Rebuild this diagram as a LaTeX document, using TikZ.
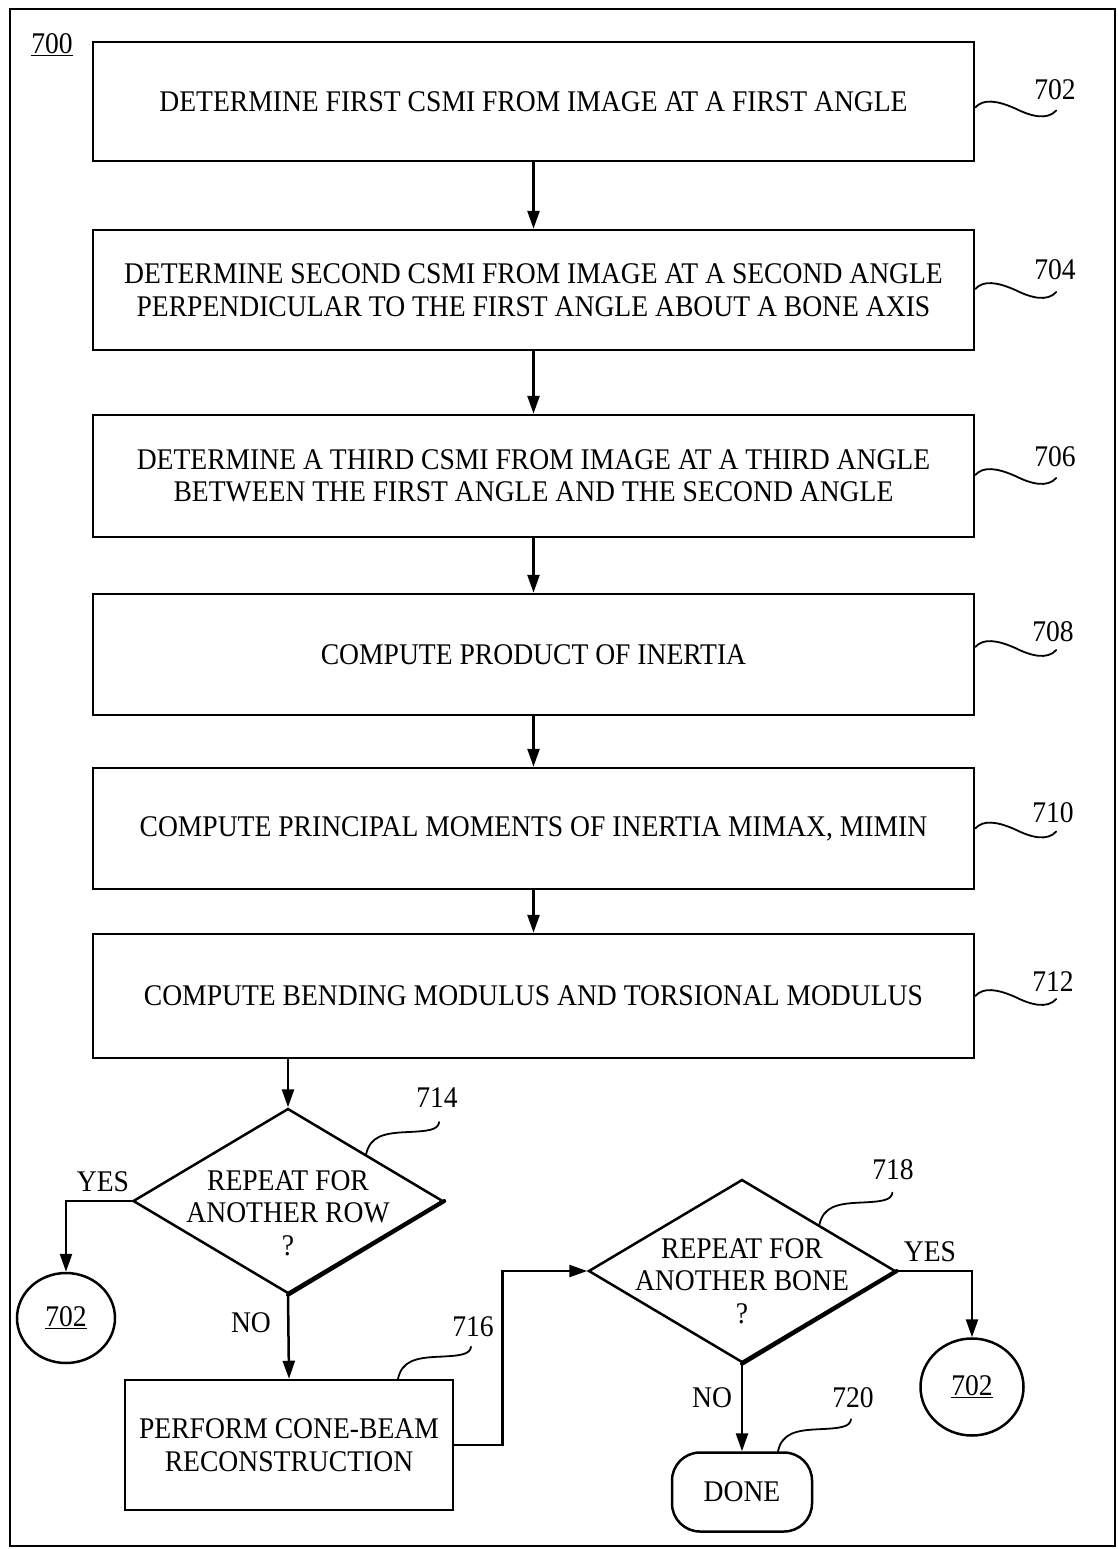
\documentclass[tikz,border=0pt]{standalone}
\usepackage{fontspec}
\setmainfont{Liberation Serif}[FakeStretch=0.92]
\usetikzlibrary{arrows.meta,shapes.geometric,calc}
\newcommand\bigtxt{\fontsize{30}{32.5}\selectfont}
\begin{document}
\begin{tikzpicture}[x=1pt,y=-1pt,
  box/.style={draw,line width=2.5pt,minimum width=881pt,inner sep=0pt,align=center,font=\bigtxt},
  dia/.style={draw,diamond,line width=2.5pt,inner sep=0pt},
  dtxt/.style={align=center,font=\bigtxt,inner sep=0pt},
  circ/.style={draw,ellipse,line width=2.5pt,inner sep=0pt,font=\bigtxt},
  arr/.style={line width=2.5pt,-{Triangle[length=18pt,width=12pt]}},
  lead/.style={line width=1.8pt,line cap=round},
  lab/.style={font=\bigtxt,inner sep=0pt},
  tilde/.pic={\draw[lead] (0,0) .. controls (8,-9) and (22,-7) .. (40,1) .. controls (56,9) and (72,13) .. (81,3);},
  hook/.pic={\draw[lead] (0,0) .. controls (4,-18) and (18,-21) .. (40,-22) .. controls (62,-23) and (72,-24) .. (73,-32);}
]
\useasboundingbox (0,0) rectangle (1118,1549);
\draw[line width=1.5pt] (10,9) rectangle (1115,1546);
\node[lab] (n700) at (52,45) {\underline{700}};

\node[box,minimum height=119pt] (b702) at (533.5,101.5) {DETERMINE FIRST CSMI FROM IMAGE AT A FIRST ANGLE};
\node[box,minimum height=120pt] (b704) at (533.5,290) {DETERMINE SECOND CSMI FROM IMAGE AT A SECOND ANGLE\\PERPENDICULAR TO THE FIRST ANGLE ABOUT A BONE AXIS};
\node[box,minimum height=122pt] (b706) at (533.5,476) {DETERMINE A THIRD CSMI FROM IMAGE AT A THIRD ANGLE\\BETWEEN THE FIRST ANGLE AND THE SECOND ANGLE};
\node[box,minimum height=121pt] (b708) at (533.5,654.5) {COMPUTE PRODUCT OF INERTIA};
\node[box,minimum height=121pt] (b710) at (533.5,828.5) {COMPUTE PRINCIPAL MOMENTS OF INERTIA MIMAX, MIMIN};
\node[box,minimum height=124pt] (b712) at (533.5,996) {COMPUTE BENDING MODULUS AND TORSIONAL MODULUS};

\foreach \a/\b in {b702/b704,b704/b706,b706/b708,b708/b710,b710/b712}
  \draw[arr] (\a) -- (\b);

\node[lab] (l702) at (1055,90) {702};
\node[lab] (l704) at (1055,270) {704};
\node[lab] (l706) at (1055,457) {706};
\node[lab] (l708) at (1053,632) {708};
\node[lab] (l710) at (1053,813) {710};
\node[lab] (l712) at (1053,982) {712};
\pic at ([yshift=-6pt]b702.east) {tilde};
\pic at ([yshift=1pt]b704.east) {tilde};
\pic at ([yshift=1pt]b706.east) {tilde};
\pic at ([yshift=7.5pt]b708.east) {tilde};
\pic at (b710.east) {tilde};
\pic at (b712.east) {tilde};

\node[dia,minimum width=310pt,minimum height=185pt] (d714) at (288,1201) {};
\node[dtxt] (t714) at (288,1213) {REPEAT FOR\\ANOTHER ROW\\?};
\draw[line width=4pt,line cap=round] (d714.east) -- (d714.south);
\node[dia,minimum width=307pt,minimum height=183pt] (d718) at (742,1271) {};
\node[dtxt] (t718) at (742,1281) {REPEAT FOR\\ANOTHER BONE\\?};
\draw[line width=4pt,line cap=round] (d718.east) -- (d718.south);

\node[circ,minimum width=98pt,minimum height=90pt] (c702a) at (66,1318) {\underline{702}};
\node[circ,minimum width=103pt,minimum height=97pt] (c702b) at (972,1387) {\underline{702}};
\node[box,minimum width=328pt,minimum height=130pt] (b716) at (289,1445) {PERFORM CONE-BEAM\\RECONSTRUCTION};
\node[draw,line width=2.5pt,rounded corners=28pt,minimum width=140pt,minimum height=79pt,inner sep=0pt,font=\bigtxt] (done) at (742,1492) {DONE};

\draw[arr] (d714.north |- b712.south) -- (d714.north);
\draw[arr] (d714.west) -| (c702a.north);
\draw[arr] (d714.south) -- (b716.north);
\draw[arr] (b716.east) -- ++(48,0) |- (d718.west);
\draw[arr] (d718.east) -| (c702b.north);
\draw[arr] (d718.south) -- (done.north);

\node[lab] (y714) at (103,1182) {YES};
\node[lab] (n714) at (251,1323) {NO};
\node[lab] (y718) at (930,1252) {YES};
\node[lab] (n718) at (712,1398) {NO};

\node[lab] (l714) at (437,1098) {714};
\node[lab] (l716) at (473,1327) {716};
\node[lab] (l718) at (893,1170) {718};
\node[lab] (l720) at (853,1398) {720};
\pic at ($(d714.north)!0.5!(d714.east)$) {hook};
\pic at ([xshift=109pt]b716.north) {hook};
\pic at ($(d718.north)!0.5!(d718.east)$) {hook};
\pic at ([xshift=36pt]done.north) {hook};
\end{tikzpicture}
\end{document}
